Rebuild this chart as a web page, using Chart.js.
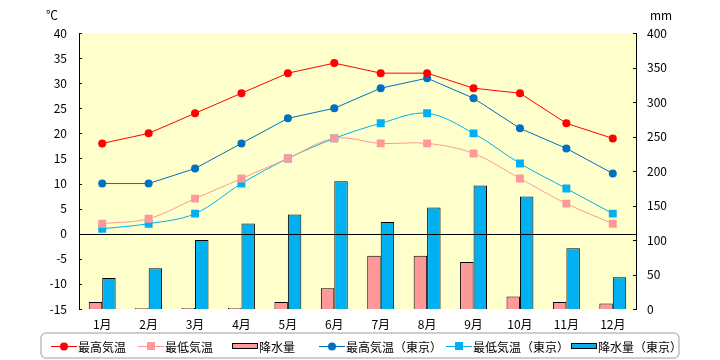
<!DOCTYPE html>
<html>
<head>
<meta charset="utf-8">
<script src="https://cdn.jsdelivr.net/npm/chart.js@4"></script>
<style>
  html, body { margin: 0; padding: 0; background: #fff; }
  #wrap { width: 720px; height: 360px; }
</style>
</head>
<body>
<div id="wrap"><canvas id="climateChart" width="720" height="360"></canvas></div>
<script>
const months = ['1月', '2月', '3月', '4月', '5月', '6月', '7月', '8月', '9月', '10月', '11月', '12月'];
const maxTemp = [18, 20, 24, 28, 32, 34, 32, 32, 29, 28, 22, 19];
const minTemp = [2, 3, 7, 11, 15, 19, 18, 18, 16, 11, 6, 2];
const rain = [10, 1.5, 1.5, 1.5, 10, 30, 77, 77, 68, 18, 10, 8];
const maxTempTokyo = [10, 10, 13, 18, 23, 25, 29, 31, 27, 21, 17, 12];
const minTempTokyo = [1, 2, 4, 10, 15, 19, 22, 24, 20, 14, 9, 4];
const rainTokyo = [45, 59, 100, 124, 137, 185, 126, 147, 179, 163, 88, 46];
const tempTicks = [-15, 40, 5];
const rainTicks = [0, 400, 50];

const FONT = "'Noto Sans CJK JP', 'Liberation Sans', sans-serif";
const ctx = document.getElementById('climateChart').getContext('2d');

// plot background, zero line, inner ticks, units, legend box
const decor = {
    id: 'decor',
    beforeDraw(chart) {
        const { ctx, chartArea: a } = chart;
        ctx.save();
        ctx.fillStyle = '#FFFFCC';
        ctx.fillRect(a.left, a.top, a.right - a.left, a.bottom - a.top);
        ctx.restore();
    },
    afterDatasetsDraw(chart) {
        const { ctx, chartArea: a, scales } = chart;
        ctx.save();
        // zero line
        const y0 = Math.round(scales.y.getPixelForValue(0)) + 0.5;
        ctx.strokeStyle = '#000';
        ctx.lineWidth = 1.2;
        ctx.beginPath();
        ctx.moveTo(a.left, y0);
        ctx.lineTo(a.right, y0);
        ctx.stroke();
        // tick marks pointing inside
        ctx.lineWidth = 1;
        scales.y.ticks.forEach(t => {
            const y = Math.round(scales.y.getPixelForValue(t.value)) + 0.5;
            ctx.beginPath();
            ctx.moveTo(a.left, y);
            ctx.lineTo(a.left + 3, y);
            ctx.stroke();
        });
        scales.y2.ticks.forEach(t => {
            const y = Math.round(scales.y2.getPixelForValue(t.value)) + 0.5;
            ctx.beginPath();
            ctx.moveTo(a.right - 3, y);
            ctx.lineTo(a.right, y);
            ctx.stroke();
        });
        ctx.restore();
    },
    afterDraw(chart) {
        const { ctx } = chart;
        ctx.save();
        ctx.fillStyle = '#000';
        ctx.font = '12px ' + FONT;
        ctx.textBaseline = 'middle';
        ctx.textAlign = 'left';
        ctx.fillText('℃', 46, 15);
        ctx.fillText('mm', 650, 15);

        // legend box
        const bx = 41, by = 333, bw = 638, bh = 25, r = 5;
        ctx.strokeStyle = '#BFBFBF';
        ctx.lineWidth = 1.5;
        ctx.beginPath();
        ctx.roundRect(bx, by, bw, bh, r);
        ctx.stroke();

        const starts = [51, 138, 232, 319, 446, 571];
        const cy = 346;
        chart.data.datasets.forEach((ds, i) => {
            const x = starts[i];
            if (ds.type === 'line') {
                ctx.strokeStyle = ds.borderColor;
                ctx.lineWidth = 1;
                ctx.beginPath();
                ctx.moveTo(x, cy + 0.5);
                ctx.lineTo(x + 26, cy + 0.5);
                ctx.stroke();
                ctx.fillStyle = ds.pointBackgroundColor;
                ctx.beginPath();
                if (ds.pointStyle === 'rect') {
                    ctx.rect(x + 9, cy - 4, 8, 8);
                } else {
                    ctx.arc(x + 13, cy + 0.5, 4, 0, Math.PI * 2);
                }
                ctx.fill();
            } else {
                ctx.fillStyle = ds.backgroundColor;
                ctx.strokeStyle = '#000';
                ctx.lineWidth = 1;
                ctx.fillRect(x, cy - 3, 26, 6);
                ctx.strokeRect(x + 0.5, cy - 2.5, 25, 5);
            }
            ctx.fillStyle = '#000';
            ctx.fillText(ds.label, x + 27, cy + 1);
        });
        ctx.restore();
    }
};

new Chart(ctx, {
    data: {
        labels: months,
        datasets: [
            {
                type: 'line',
                label: '最高気温',
                data: maxTemp,
                yAxisID: 'y',
                borderColor: '#FF0000',
                backgroundColor: '#FF0000',
                pointBackgroundColor: '#FF0000',
                pointBorderWidth: 0,
                pointStyle: 'circle',
                pointRadius: 4,
                borderWidth: 1,
                tension: 0,
                order: 1
            },
            {
                type: 'line',
                label: '最低気温',
                data: minTemp,
                yAxisID: 'y',
                borderColor: '#FF9999',
                backgroundColor: '#FF9999',
                pointBackgroundColor: '#FF9999',
                pointBorderWidth: 0,
                pointStyle: 'rect',
                pointRadius: 5.6,
                borderWidth: 1,
                tension: 0.35,
                order: 1
            },
            {
                type: 'bar',
                label: '降水量',
                data: rain,
                yAxisID: 'y2',
                backgroundColor: '#FF9999',
                borderColor: '#000',
                borderWidth: 1,
                barPercentage: 1,
                categoryPercentage: 0.58,
                order: 2
            },
            {
                type: 'line',
                label: '最高気温（東京）',
                data: maxTempTokyo,
                yAxisID: 'y',
                borderColor: '#0070C0',
                backgroundColor: '#0070C0',
                pointBackgroundColor: '#0070C0',
                pointBorderWidth: 0,
                pointStyle: 'circle',
                pointRadius: 4,
                borderWidth: 1,
                tension: 0,
                order: 1
            },
            {
                type: 'line',
                label: '最低気温（東京）',
                data: minTempTokyo,
                yAxisID: 'y',
                borderColor: '#00B0F0',
                backgroundColor: '#00B0F0',
                pointBackgroundColor: '#00B0F0',
                pointBorderWidth: 0,
                pointStyle: 'rect',
                pointRadius: 5.6,
                borderWidth: 1,
                tension: 0.35,
                order: 1
            },
            {
                type: 'bar',
                label: '降水量（東京）',
                data: rainTokyo,
                yAxisID: 'y2',
                backgroundColor: '#00B0F0',
                borderColor: '#000',
                borderWidth: 1,
                barPercentage: 1,
                categoryPercentage: 0.58,
                order: 2
            }
        ]
    },
    options: {
        responsive: false,
        animation: false,
        layout: { padding: { top: 33, left: 0, right: 0, bottom: 0 } },
        plugins: {
            legend: { display: false },
            tooltip: { enabled: false }
        },
        scales: {
            x: {
                offset: true,
                grid: { display: false },
                border: { display: false },
                ticks: { color: '#000', font: { family: FONT, size: 12 }, padding: 0, maxRotation: 0 },
                afterFit(scale) { scale.height = 51; }
            },
            y: {
                position: 'left',
                min: tempTicks[0],
                max: tempTicks[1],
                ticks: { stepSize: tempTicks[2], color: '#000', font: { family: FONT, size: 12 }, padding: 12 },
                grid: { display: false, drawTicks: false },
                border: { display: true, color: '#000', width: 1 },
                afterFit(scale) { scale.width = 79; }
            },
            y2: {
                position: 'right',
                min: rainTicks[0],
                max: rainTicks[1],
                ticks: { stepSize: rainTicks[2], color: '#000', font: { family: FONT, size: 12 }, padding: 11 },
                grid: { display: false, drawTicks: false },
                border: { display: true, color: '#000', width: 1 },
                afterFit(scale) { scale.width = 84; }
            }
        }
    },
    plugins: [decor]
});
</script>
</body>
</html>
